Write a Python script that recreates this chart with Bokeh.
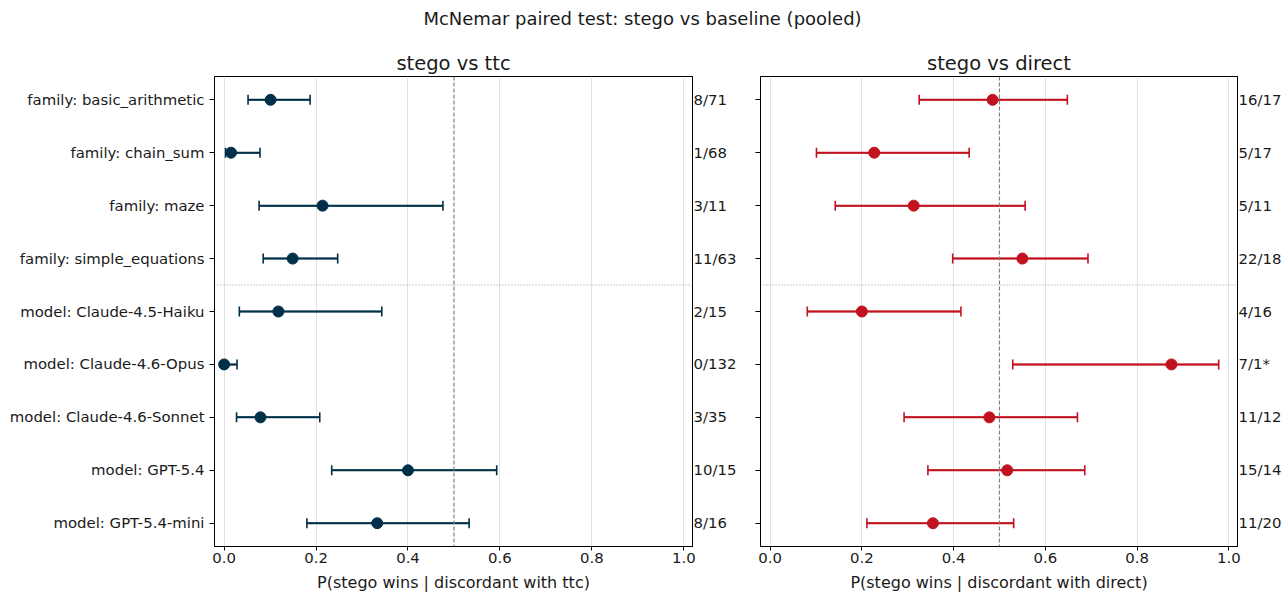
from bokeh.plotting import figure
from bokeh.layouts import column, row
from bokeh.models import (Range1d, FixedTicker, LinearAxis, Span, Whisker,
                          ColumnDataSource, NumeralTickFormatter)
from bokeh.embed import file_html
from bokeh.resources import INLINE

# ---------------- data ----------------
categories = [
    "family: basic_arithmetic", "family: chain_sum", "family: maze",
    "family: simple_equations", "model: Claude-4.5-Haiku", "model: Claude-4.6-Opus",
    "model: Claude-4.6-Sonnet", "model: GPT-5.4", "model: GPT-5.4-mini",
]
ttc_labels = ["8/71", "1/68", "3/11", "11/63", "2/15", "0/132", "3/35", "10/15", "8/16"]
ttc_p = [0.101, 0.015, 0.214, 0.149, 0.118, 0.0, 0.079, 0.400, 0.333]
ttc_lo = [0.052, 0.003, 0.076, 0.085, 0.033, 0.0, 0.027, 0.234, 0.180]
ttc_hi = [0.187, 0.078, 0.476, 0.247, 0.343, 0.028, 0.208, 0.593, 0.533]

direct_labels = ["16/17", "5/17", "5/11", "22/18", "4/16", "7/1*", "11/12", "15/14", "11/20"]
direct_p = [0.485, 0.227, 0.313, 0.550, 0.200, 0.875, 0.478, 0.517, 0.355]
direct_lo = [0.325, 0.101, 0.142, 0.398, 0.081, 0.529, 0.292, 0.344, 0.211]
direct_hi = [0.648, 0.434, 0.556, 0.693, 0.416, 0.978, 0.670, 0.686, 0.531]

x_ticks = [0.0, 0.2, 0.4, 0.6, 0.8, 1.0]
FONT = "DejaVu Sans"
TXT = "#1a1a1a"
TICK_FS = "14.9px"


def make_panel(title, xlabel, p_vals, lo, hi, right_labels, color, show_cats,
               width, bl, br):
    n = len(categories)
    ys = list(range(n))
    p = figure(width=width, height=554, output_backend="svg", toolbar_location=None,
               x_range=Range1d(-0.021, 1.019), y_range=Range1d(n - 1 + 0.44, -0.44),
               min_border_left=bl, min_border_right=br, min_border_top=36,
               min_border_bottom=10, title=title)
    p.title.text_font = FONT
    p.title.text_font_size = "19.5px"
    p.title.text_font_style = "normal"
    p.title.align = "center"
    p.title.text_color = TXT
    p.title.standoff = 3
    p.outline_line_color = "#000000"
    p.outline_line_width = 1
    p.background_fill_color = "white"
    p.border_fill_color = "white"

    # grid
    p.ygrid.visible = False
    p.xgrid.ticker = FixedTicker(ticks=x_ticks)
    p.xgrid.grid_line_color = "#e3e3e3"
    p.xgrid.grid_line_width = 1

    # x axis
    p.xaxis.ticker = FixedTicker(ticks=x_ticks)
    p.xaxis.formatter = NumeralTickFormatter(format="0.0")
    p.xaxis.axis_label = xlabel
    p.xaxis.axis_label_text_font = FONT
    p.xaxis.axis_label_text_font_size = "16px"
    p.xaxis.axis_label_text_font_style = "normal"
    p.xaxis.axis_label_text_color = TXT
    p.xaxis.axis_label_standoff = 7
    p.xaxis.major_label_text_font = FONT
    p.xaxis.major_label_text_font_size = TICK_FS
    p.xaxis.major_label_text_color = TXT
    p.xaxis.major_label_standoff = 2
    p.xaxis.minor_tick_line_color = None
    p.xaxis.major_tick_in = 0
    p.xaxis.major_tick_out = 4
    p.xaxis.axis_line_color = "#000000"

    # left y axis
    p.yaxis.ticker = FixedTicker(ticks=ys)
    if show_cats:
        p.yaxis.major_label_overrides = {i: c for i, c in enumerate(categories)}
    else:
        p.yaxis.major_label_overrides = {i: "" for i in ys}
    p.yaxis.major_label_text_font = FONT
    p.yaxis.major_label_text_font_size = TICK_FS
    p.yaxis.major_label_text_color = TXT
    p.yaxis.minor_tick_line_color = None
    p.yaxis.major_tick_in = 0
    p.yaxis.major_tick_out = 5
    p.yaxis.major_label_standoff = 5 if show_cats else 0

    # right labels axis
    rax = LinearAxis(ticker=FixedTicker(ticks=ys),
                     major_label_overrides={i: t for i, t in enumerate(right_labels)})
    rax.major_tick_out = 0
    rax.major_tick_in = 0
    rax.minor_tick_line_color = None
    rax.major_label_standoff = 1
    rax.major_label_text_font = FONT
    rax.major_label_text_font_size = TICK_FS
    rax.major_label_text_color = TXT
    rax.axis_line_color = "#000000"
    p.add_layout(rax, "right")

    # reference lines
    p.add_layout(Span(location=0.5, dimension="height", line_color="#808080",
                      line_width=1.2, line_dash="4 2"))
    p.add_layout(Span(location=3.5, dimension="width", line_color="#999999",
                      line_width=1, line_dash="1 2"))

    src = ColumnDataSource(dict(y=ys, p=p_vals, lo=lo, hi=hi))
    p.segment(x0="lo", y0="y", x1="hi", y1="y", source=src, line_color=color,
              line_width=2)
    w = Whisker(base="y", lower="lo", upper="hi", source=src, dimension="width",
                line_color=color, line_width=1.5)
    w.upper_head.size = 10
    w.lower_head.size = 10
    w.upper_head.line_color = color
    w.lower_head.line_color = color
    w.upper_head.line_width = 1.6
    w.lower_head.line_width = 1.6
    p.add_layout(w)
    p.scatter(x="p", y="y", source=src, size=11, fill_color=color, line_color=color)
    return p


p1 = make_panel("stego vs ttc", "P(stego wins | discordant with ttc)",
                ttc_p, ttc_lo, ttc_hi, ttc_labels, "#003049", True, 745, 214, 53)
p2 = make_panel("stego vs direct", "P(stego wins | discordant with direct)",
                direct_p, direct_lo, direct_hi, direct_labels, "#c1121f", False, 539, 15, 47)

p0 = figure(width=1284, height=40, output_backend="svg", toolbar_location=None,
            title="McNemar paired test: stego vs baseline (pooled)",
            min_border_top=8, min_border_left=0, min_border_right=0, min_border_bottom=0,
            x_range=Range1d(0, 1), y_range=Range1d(0, 1))
p0.title.align = "center"
p0.title.text_font = FONT
p0.title.text_font_size = "18px"
p0.title.text_font_style = "normal"
p0.title.text_color = TXT
p0.axis.visible = False
p0.grid.visible = False
p0.outline_line_color = None
p0.scatter(x=[-5], y=[-5], size=1, alpha=0)

layout = column(p0, row(p1, p2, spacing=0), spacing=0)
open("out.html", "w").write(file_html(layout, INLINE))
